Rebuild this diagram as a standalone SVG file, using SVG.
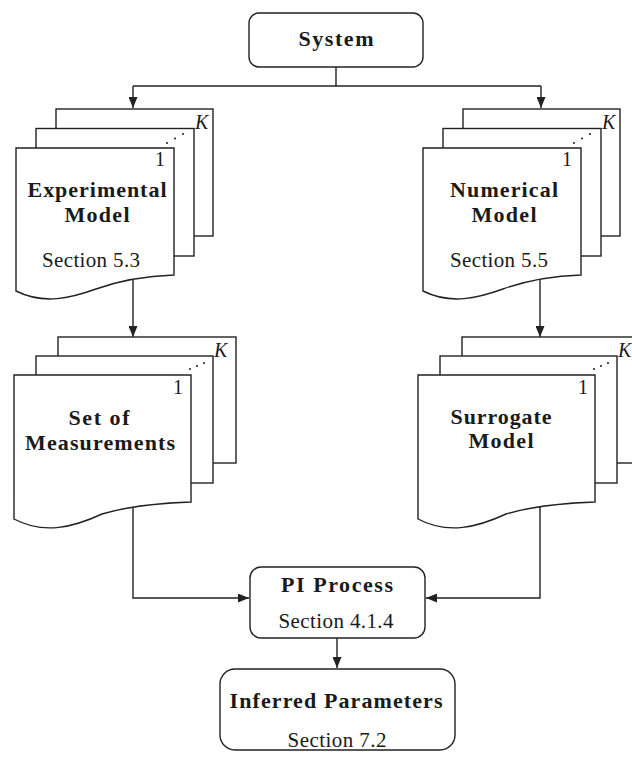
<svg xmlns="http://www.w3.org/2000/svg" xmlns:xlink="http://www.w3.org/1999/xlink" width="632" height="760" viewBox="0 0 632 760">
<style>
  .shape { fill: #ffffff; stroke: #222222; stroke-width: 1.4; }
  .conn { fill: none; stroke: #222222; stroke-width: 1.4; }
  .b { font-family: "Liberation Serif", "Times New Roman", serif; font-weight: bold; font-size: 22px; fill: #1a1a1a; text-anchor: middle; }
  .r { font-family: "Liberation Serif", "Times New Roman", serif; font-size: 21px; fill: #1a1a1a; text-anchor: middle; }
  .idx { font-family: "Liberation Serif", "Times New Roman", serif; font-size: 20px; fill: #1a1a1a; }
  .k { font-family: "Liberation Serif", "Times New Roman", serif; font-style: italic; font-size: 20px; fill: #1a1a1a; }
  .dot { fill: #1a1a1a; }
</style>
<defs>
  <marker id="arr" viewBox="0 0 11 9" refX="11" refY="4.5" markerWidth="11" markerHeight="9" markerUnits="userSpaceOnUse" orient="auto">
    <path d="M0,0 L11,4.5 L0,9 Z" fill="#222222"/>
  </marker>
  <g id="stackA">
    <rect class="shape" x="40" y="-39" width="157" height="127"/>
    <rect class="shape" x="20" y="-19.5" width="158" height="127.5"/>
    <path class="shape" d="M0,0 H158 V127 C130,128 105,132 80,141 C55,150 28,157 0,143 Z"/>
    <circle class="dot" cx="151" cy="-5" r="1"/>
    <circle class="dot" cx="159" cy="-9.5" r="1"/>
    <circle class="dot" cx="167" cy="-14" r="1"/>
  </g>
  <g id="stackB">
    <rect class="shape" x="44" y="-38" width="178" height="126"/>
    <rect class="shape" x="22" y="-19" width="177" height="127"/>
    <path class="shape" d="M0,0 H177 V127 C145,128 115,131 88,139 C60,152 30,160 0,144 Z"/>
    <circle class="dot" cx="176" cy="-6" r="1"/>
    <circle class="dot" cx="183" cy="-9" r="1"/>
    <circle class="dot" cx="190" cy="-12" r="1"/>
  </g>
</defs>

<g id="connectors">
  <path class="conn" d="M336,67 V86"/>
  <path class="conn" d="M133,86 H541"/>
  <path class="conn" d="M133,86 V108" marker-end="url(#arr)"/>
  <path class="conn" d="M541,86 V108" marker-end="url(#arr)"/>
  <path class="conn" d="M133,277 V337" marker-end="url(#arr)"/>
  <path class="conn" d="M540,277 V337" marker-end="url(#arr)"/>
  <path class="conn" d="M133,505 V598 H249" marker-end="url(#arr)"/>
  <path class="conn" d="M540,505 V598 H426" marker-end="url(#arr)"/>
  <path class="conn" d="M337,638 V668" marker-end="url(#arr)"/>
</g>

<g id="system">
  <rect class="shape" x="249" y="13" width="174" height="54" rx="10"/>
  <text class="b" x="336" y="46" textLength="75" lengthAdjust="spacing">System</text>
</g>

<g id="experimental-model">
  <use xlink:href="#stackA" x="16" y="148"/>
  <text class="k" x="195" y="129">K</text>
  <text class="idx" x="155" y="166">1</text>
  <text class="b" x="97" y="197" textLength="139" lengthAdjust="spacing">Experimental</text>
  <text class="b" x="97" y="222" textLength="65" lengthAdjust="spacing">Model</text>
  <text class="r" x="91" y="267" textLength="98" lengthAdjust="spacing">Section 5.3</text>
</g>

<g id="numerical-model">
  <use xlink:href="#stackA" x="423" y="148"/>
  <text class="k" x="602" y="129">K</text>
  <text class="idx" x="562" y="166">1</text>
  <text class="b" x="504" y="197" textLength="108" lengthAdjust="spacing">Numerical</text>
  <text class="b" x="504" y="222" textLength="65" lengthAdjust="spacing">Model</text>
  <text class="r" x="499" y="267" textLength="98" lengthAdjust="spacing">Section 5.5</text>
</g>

<g id="set-of-measurements">
  <use xlink:href="#stackB" x="14" y="375"/>
  <text class="k" x="214" y="357">K</text>
  <text class="idx" x="173" y="394">1</text>
  <text class="b" x="99" y="425" textLength="61" lengthAdjust="spacing">Set of</text>
  <text class="b" x="100" y="450" textLength="150" lengthAdjust="spacing">Measurements</text>
</g>

<g id="surrogate-model">
  <use xlink:href="#stackB" x="418" y="375"/>
  <text class="k" x="618" y="357">K</text>
  <text class="idx" x="578" y="394">1</text>
  <text class="b" x="501" y="424" textLength="101" lengthAdjust="spacing">Surrogate</text>
  <text class="b" x="501" y="448" textLength="65" lengthAdjust="spacing">Model</text>
</g>

<g id="pi-process">
  <rect class="shape" x="250" y="567" width="175" height="71" rx="11"/>
  <text class="b" x="337" y="592" textLength="112" lengthAdjust="spacing">PI Process</text>
  <text class="r" x="336" y="628" textLength="115" lengthAdjust="spacing">Section 4.1.4</text>
</g>

<g id="inferred-parameters">
  <rect class="shape" x="220" y="669" width="235" height="81" rx="15"/>
  <text class="b" x="336" y="708" textLength="213" lengthAdjust="spacing">Inferred Parameters</text>
  <text class="r" x="337" y="747" textLength="99" lengthAdjust="spacing">Section 7.2</text>
</g>
</svg>
